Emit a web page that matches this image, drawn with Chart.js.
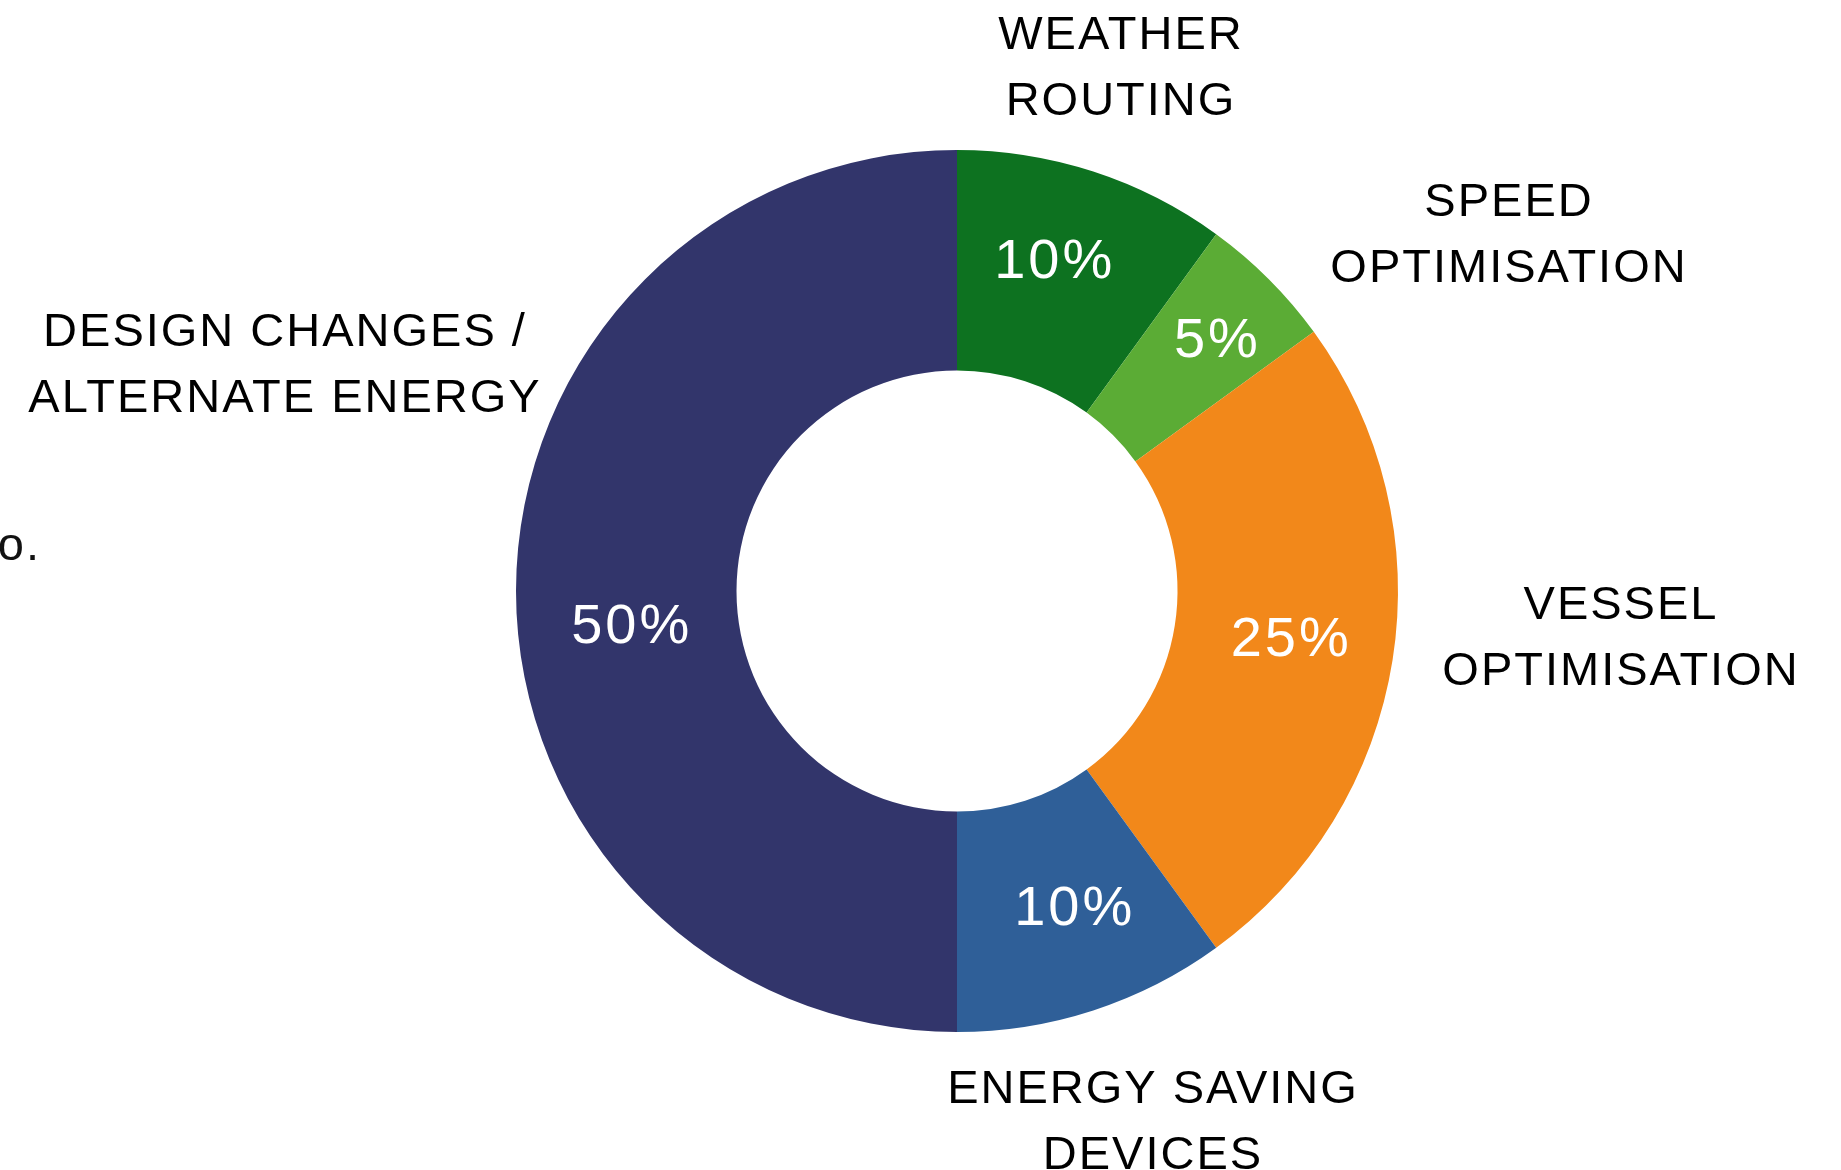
<!DOCTYPE html>
<html>
<head>
<meta charset="utf-8">
<script src="https://cdn.jsdelivr.net/npm/chart.js@4.4.1/dist/chart.umd.min.js"></script>
<style>
  html, body { margin: 0; padding: 0; background: #ffffff; }
  #wrap { width: 1841px; height: 1170px; position: relative; }
</style>
</head>
<body>
<div id="wrap"><canvas id="grafico" width="1841" height="1170"></canvas></div>
<script>
// dados do grafico
const categorias = [
    ['WEATHER', 'ROUTING'],
    ['SPEED', 'OPTIMISATION'],
    ['VESSEL', 'OPTIMISATION'],
    ['ENERGY SAVING', 'DEVICES'],
    ['DESIGN CHANGES /', 'ALTERNATE ENERGY']
];
const valores = [10, 5, 25, 10, 50];
const cores = ['#0D7220', '#5BAC35', '#F2881A', '#2F5F98', '#32356B'];

// posicoes dos rotulos (relativas ao centro do grafico)
const ajustePercentual = [[-6, -14], [25, -16], [6, -2], [14, 4], [4, 37]];
const posCategoria = [[163, -555], [551, -388], [663, 15], [195, 499], [-673, -258]];
const alturaLinha = 66;
const fonte = "'Liberation Sans', Arial, sans-serif";

const rotulos = {
    id: 'rotulos',
    afterDatasetsDraw(chart) {
        const ctx = chart.ctx;
        const arcos = chart.getDatasetMeta(0).data;
        ctx.save();
        ctx.textAlign = 'center';
        ctx.textBaseline = 'middle';

        // percentuais dentro das fatias
        ctx.fillStyle = '#ffffff';
        ctx.font = '56px ' + fonte;
        ctx.letterSpacing = '3px';
        arcos.forEach(function (arco, i) {
            const p = arco.tooltipPosition();
            ctx.fillText(valores[i] + '%', p.x + ajustePercentual[i][0] + 1.5, p.y + ajustePercentual[i][1]);
        });

        // nomes das categorias fora do anel
        ctx.fillStyle = '#000000';
        ctx.font = '47px ' + fonte;
        ctx.letterSpacing = '2px';
        arcos.forEach(function (arco, i) {
            const linhas = categorias[i];
            linhas.forEach(function (linha, j) {
                ctx.fillText(linha, arco.x + posCategoria[i][0] + 1, arco.y + posCategoria[i][1] + j * alturaLinha);
            });
        });

        // texto cortado na margem esquerda
        ctx.textAlign = 'right';
        ctx.textBaseline = 'alphabetic';
        ctx.fillStyle = '#111111';
        ctx.fillText('o.', 41, 560);
        ctx.restore();
    }
};

new Chart(document.getElementById('grafico'), {
    type: 'doughnut',
    data: {
        labels: categorias,
        datasets: [{
            data: valores,
            backgroundColor: cores,
            borderWidth: 0,
            hoverOffset: 0,
            offset: 0
        }]
    },
    options: {
        responsive: false,
        animation: false,
        cutout: '50%',
        layout: {
            padding: { top: 150, bottom: 138, left: 516, right: 443 }
        },
        plugins: {
            legend: { display: false },
            tooltip: { enabled: false }
        }
    },
    plugins: [rotulos]
});
</script>
</body>
</html>
